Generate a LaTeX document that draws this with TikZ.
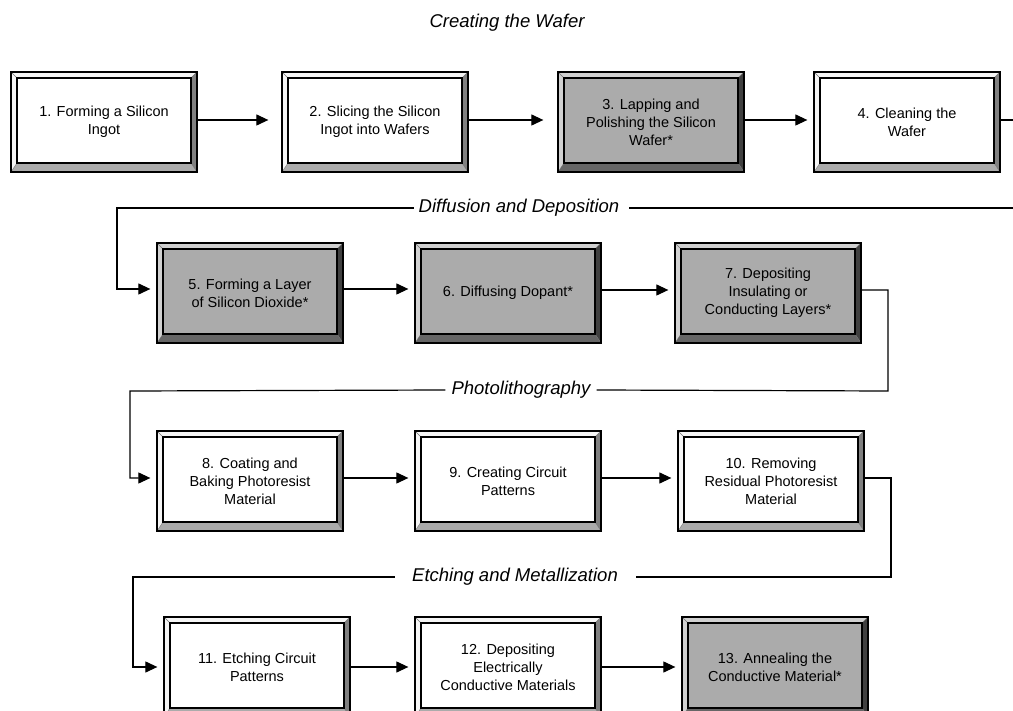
\documentclass[tikz,border=0pt]{standalone}
\usepackage{fontspec}
\setmainfont{Liberation Sans}
\usetikzlibrary{calc,arrows.meta}
\newcommand\bevelparts[4]{%
  \fill[#2,draw=black!55,line width=0.4pt] let \p1=(path picture bounding box.south west), \p2=(path picture bounding box.north east) in
    (\x2,\y2) -- (\x2,\y1) -- (\x2-6pt,\y1+9pt) -- (\x2-6pt,\y2-6pt) -- cycle;
  \fill[#3,draw=black!55,line width=0.4pt] let \p1=(path picture bounding box.south west), \p2=(path picture bounding box.north east) in
    (\x1,\y1) -- (\x2,\y1) -- (\x2-6pt,\y1+9pt) -- (\x1+6pt,\y1+9pt) -- cycle;
  \draw[black!55,line width=0.4pt] let \p1=(path picture bounding box.south west), \p2=(path picture bounding box.north east) in
    (\x1,\y2) -- (\x1+6pt,\y2-6pt);
  \filldraw[fill=#4,draw=black,line width=1.2pt] let \p1=(path picture bounding box.south west), \p2=(path picture bounding box.north east) in
    (\x1+6pt,\y1+9pt) rectangle (\x2-6pt,\y2-6pt);
}
\tikzset{
  x=1pt, y=-1pt,
  stepbase/.style={rectangle, draw=black, line width=1.3pt, minimum width=186pt,
    minimum height=100pt, inner sep=0pt, align=center,
    font=\fontsize{14.5}{18}\selectfont},
  wbox/.style={stepbase, fill=black!4, path picture={\bevelparts{black!4}{black!50}{black!33}{white}}},
  gbox/.style={stepbase, fill=black!18, path picture={\bevelparts{black!18}{black!75}{black!60}{black!33}}},
  conn/.style={line width=1.2pt, -{Triangle[length=12pt,width=11pt]}, shorten >=6pt},
  plain/.style={line width=1.2pt},
  lab/.style={font=\fontsize{18.5}{20}\selectfont\itshape, inner sep=0pt}
}
\begin{document}
\begin{tikzpicture}
\useasboundingbox (0,0) rectangle (1013,711);
\clip (0,0) rectangle (1013,711);
\fill[white] (0,0) rectangle (1013,711);

% titles
\node[lab] (L1) at (507,23) {Creating the Wafer};
\node[lab] (L2) at (519,208) {Diffusion and Deposition};
\node[lab] (L3) at (521,390) {Photolithography};
\node[lab] (L4) at (515,577) {Etching and Metallization};

% row 1
\node[wbox] (b1) at (104,122) {1. Forming a Silicon\\Ingot};
\node[wbox] (b2) at (375,122) {2. Slicing the Silicon\\Ingot into Wafers};
\node[gbox] (b3) at (651,122) {3. Lapping and\\Polishing the Silicon\\Wafer*};
\node[wbox] (b4) at (907,122) {4. Cleaning the\\Wafer};
% row 2
\node[gbox] (b5) at (250,293) {5. Forming a Layer\\of Silicon Dioxide*};
\node[gbox] (b6) at (508,293) {6. Diffusing Dopant*};
\node[gbox] (b7) at (768,293) {7. Depositing\\Insulating or\\Conducting Layers*};
% row 3
\node[wbox] (b8) at (250,481) {8. Coating and\\Baking Photoresist\\Material};
\node[wbox] (b9) at (508,481) {9. Creating Circuit\\Patterns};
\node[wbox] (b10) at (771,481) {10. Removing\\Residual Photoresist\\Material};
% row 4
\node[wbox] (b11) at (257,667) {11. Etching Circuit\\Patterns};
\node[wbox] (b12) at (508,667) {12. Depositing\\Electrically\\Conductive Materials};
\node[gbox] (b13) at (775,667) {13. Annealing the\\Conductive Material*};

% row connectors
\draw[conn, shorten >=13pt] ([yshift=2pt]b1.east) -- ([yshift=2pt]b2.west);
\draw[conn, shorten >=14pt] ([yshift=2pt]b2.east) -- ([yshift=2pt]b3.west);
\draw[conn] ([yshift=2pt]b3.east) -- ([yshift=2pt]b4.west);
\draw[conn] ([yshift=4pt]b5.east) -- ([yshift=4pt]b6.west);
\draw[conn] ([yshift=3pt]b6.east) -- ([yshift=3pt]b7.west);
\draw[conn] ([yshift=3pt]b8.east) -- ([yshift=3pt]b9.west);
\draw[conn] ([yshift=3pt]b9.east) -- ([yshift=3pt]b10.west);
\draw[conn] (b11.east) -- (b12.west);
\draw[conn] (b12.east) -- (b13.west);

% stage connectors
\coordinate (o1) at (1030,120);
\coordinate (o2) at (1030,208);
\coordinate (c5) at (117,208);
\draw[plain] ([yshift=2pt]b4.east) -- (o1) -- (o2) -- ([xshift=10pt]L2.east);
\draw[conn] ([xshift=-5pt]L2.west) -- (c5) |- ([yshift=4pt]b5.west);

\coordinate (r7) at (888,391);
\coordinate (c8) at (130,391);
\draw[plain] ([yshift=3pt]b7.east) -| (r7) -- ([xshift=6pt]L3.east);
\draw[conn] ([xshift=-6pt]L3.west) -- (c8) |- ([yshift=3pt]b8.west);

\coordinate (r10) at (891,577);
\coordinate (c11) at (133,577);
\draw[plain] ([yshift=3pt]b10.east) -| (r10) -- ([xshift=18pt]L4.east);
\draw[conn] ([xshift=-17pt]L4.west) -- (c11) |- (b11.west);
\end{tikzpicture}
\end{document}
